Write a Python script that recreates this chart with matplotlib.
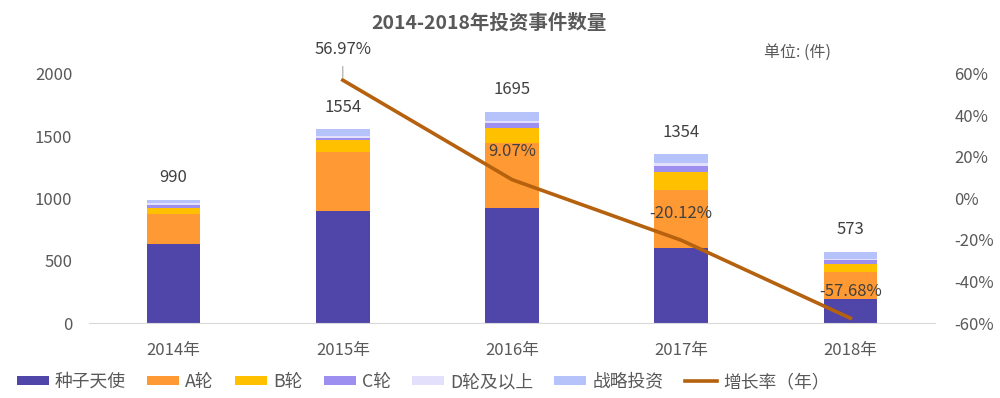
import numpy as np
from matplotlib import pyplot as plt
from matplotlib.ticker import FuncFormatter

plt.rcParams['font.family'] = ['Noto Sans CJK SC', 'DejaVu Sans']

years = ["2014年", "2015年", "2016年", "2017年", "2018年"]
series_names = ["种子天使", "A轮", "B轮", "C轮", "D轮及以上", "战略投资"]
seed = [632, 897, 927, 602, 190]
round_a = [247, 472, 519, 469, 220]
round_b = [48, 104, 118, 142, 67]
round_c = [24, 13, 42, 48, 27]
round_d = [13, 16, 16, 27, 13]
strategic = [26, 52, 73, 66, 56]
totals = [990, 1554, 1695, 1354, 573]

growth_years = [1, 2, 3, 4]
growth = [56.97, 9.07, -20.12, -57.68]
growth_name = "增长率（年）"

colors = ["#5045A8", "#FF9933", "#FFC000", "#9C8FF0", "#E2E0FA", "#B6C2FA"]
line_color = "#B5610E"
text_color = "#595959"

fig = plt.figure(figsize=(10, 3.98), dpi=100)
ax = fig.add_axes([0.089, 0.1884, 0.846, 0.626])

x = np.arange(len(years))
bottom = np.zeros(len(years))
handles = []
for name, vals, c in zip(series_names, [seed, round_a, round_b, round_c, round_d, strategic], colors):
    b = ax.bar(x, vals, 0.317, bottom=bottom, color=c, label=name, zorder=2)
    handles.append(b)
    bottom += np.array(vals)

for xi, t in zip(x, totals):
    ax.annotate(str(t), (xi, t), xytext=(0, 16), textcoords="offset points",
                ha="center", va="center", fontsize=12, color="#404040")

ax.set_xlim(-0.5, 4.5)
ax.set_ylim(0, 2000)
ax.set_yticks([0, 500, 1000, 1500, 2000])
ax.set_xticks(x)
ax.set_xticklabels(years)
ax.tick_params(axis="both", length=0, labelsize=12, labelcolor=text_color)
ax.tick_params(axis="y", pad=12)
ax.tick_params(axis="x", pad=14)
for s in ["top", "left", "right"]:
    ax.spines[s].set_visible(False)
ax.spines["bottom"].set_color("#D9D9D9")

ax2 = ax.twinx()
line, = ax2.plot(growth_years, growth, color=line_color, lw=2.6, label=growth_name, zorder=3)
ax2.set_ylim(-60, 60)
ax2.set_yticks([-60, -40, -20, 0, 20, 40, 60])
ax2.yaxis.set_major_formatter(FuncFormatter(lambda v, p: f"{v:.0f}%"))
ax2.tick_params(axis="y", length=0, labelsize=12, labelcolor=text_color, pad=14)
for s in ["top", "left", "right", "bottom"]:
    ax2.spines[s].set_visible(False)

offsets = [22, 20, 19, 19]
for gx, g, off in zip(growth_years, growth, offsets):
    ax2.annotate(f"{g:.2f}%", (gx, g), xytext=(0, off), textcoords="offset points",
                 ha="center", va="center", fontsize=12, color="#404040", zorder=4)
# leader line for the first label
ax2.annotate("", (growth_years[0], growth[0]), xytext=(growth_years[0], growth[0] + 8),
             arrowprops=dict(arrowstyle="-", color="#A6A6A6", lw=0.8))

fig.text(0.489, 1 - 23 / 398, "2014-2018年投资事件数量", ha="center", va="center",
         fontsize=14, fontweight="bold", color="#595959")
fig.text(0.797, 1 - 52 / 398, "单位: (件)", ha="center", va="center",
         fontsize=11.5, color=text_color)

leg = fig.legend(handles + [line], series_names + [growth_name], loc="center",
                 bbox_to_anchor=(0.423, 1 - 382 / 398), ncol=7, frameon=False,
                 fontsize=12.8, handlelength=1.8, handleheight=0.45,
                 handletextpad=0.34, columnspacing=1.2)
for t in leg.get_texts():
    t.set_color(text_color)

fig.savefig("out.png", dpi=100)
